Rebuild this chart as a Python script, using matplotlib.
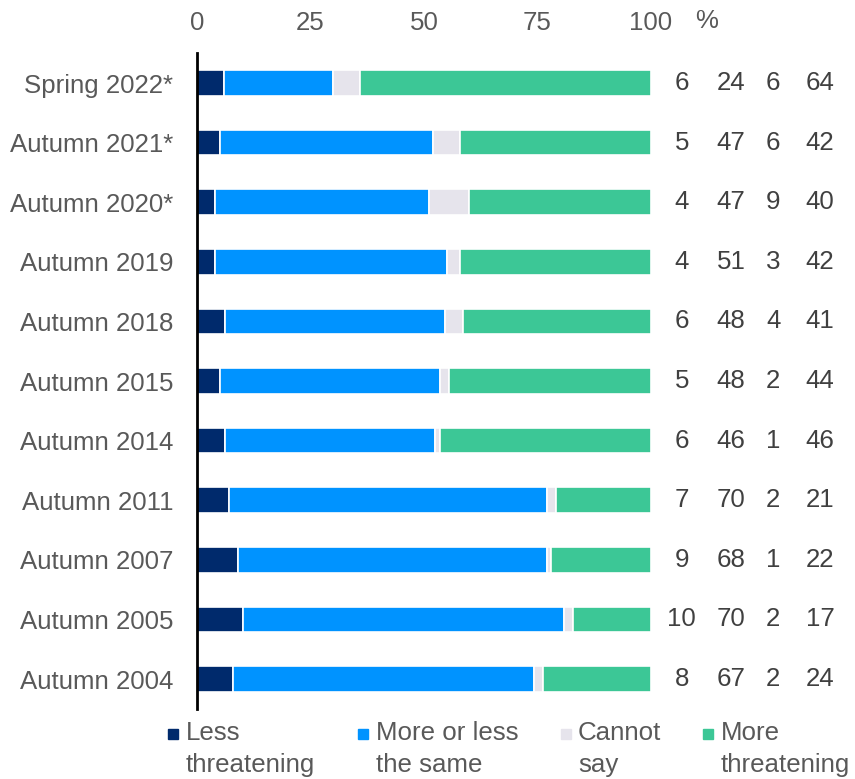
import matplotlib.pyplot as plt
import matplotlib.patches as mpatches
import matplotlib.transforms as mtransforms
import numpy as np

plt.rcParams['font.family'] = ['Liberation Sans', 'DejaVu Sans']

years = ['Spring 2022*', 'Autumn 2021*', 'Autumn 2020*', 'Autumn 2019', 'Autumn 2018',
         'Autumn 2015', 'Autumn 2014', 'Autumn 2011', 'Autumn 2007', 'Autumn 2005',
         'Autumn 2004']
less = [6, 5, 4, 4, 6, 5, 6, 7, 9, 10, 8]
same = [24, 47, 47, 51, 48, 48, 46, 70, 68, 70, 67]
cannot = [6, 6, 9, 3, 4, 2, 1, 2, 1, 2, 2]
more = [64, 42, 40, 42, 41, 44, 46, 21, 22, 17, 24]

labels = ['Less\nthreatening', 'More or less\nthe same', 'Cannot\nsay', 'More\nthreatening']
colors = ['#002a6c', '#0093ff', '#e6e4ec', '#3cc796']
ticks = [0, 25, 50, 75, 100]

text_col = '#595959'
fs = 18.6

series = np.array([less, same, cannot, more], dtype=float)
# bars fill to 100 in the original
shares = series / series.sum(axis=0) * 100

fig = plt.figure(figsize=(8.55, 7.79), dpi=100)
ax = fig.add_axes([0.2304, 0.0901, 0.531, 0.8416])

y = np.arange(len(years))
left = np.zeros(len(years))
for vals, lab, col in zip(shares, labels, colors):
    ax.barh(y, vals, left=left, height=0.43, color=col, edgecolor='white',
            linewidth=1.2, label=lab)
    left += vals

# value columns on the right
col_x = [106.8, 117.6, 126.9, 137.2]
for vals, cx in zip(series, col_x):
    for yi, v in zip(y, vals):
        ax.text(cx, yi, f'{int(v)}', ha='center', va='center', fontsize=fs,
                color='#404040', clip_on=False)
trans = mtransforms.blended_transform_factory(ax.transData, fig.transFigure)
ax.text(112.3, 1 - 21 / 779, '%', ha='center', va='center', fontsize=fs,
        color=text_col, transform=trans, clip_on=False)

ax.set_xlim(0, 100)
ax.set_ylim(len(years) - 0.5, -0.5)
ax.set_yticks(y)
ax.set_yticklabels(years)
ax.set_xticks(ticks)
ax.xaxis.tick_top()
ax.tick_params(axis='x', length=0, pad=13, labelsize=fs, labelcolor=text_col)
ax.tick_params(axis='y', length=0, pad=17, labelsize=fs, labelcolor=text_col)
for s in ['top', 'right', 'bottom']:
    ax.spines[s].set_visible(False)
ax.spines['left'].set_linewidth(2)
ax.spines['left'].set_color('black')

# legend: small square aligned with first line of each label
leg_box = [168, 358, 561, 703]
leg_txt = [186, 376, 578, 721]
for bx, tx, lab, col in zip(leg_box, leg_txt, labels, colors):
    fig.add_artist(mpatches.Rectangle((bx / 855, 1 - 739 / 779), 10 / 855, 10 / 779,
                                      color=col, transform=fig.transFigure))
    fig.text(tx / 855, 1 - 721 / 779, lab, fontsize=fs, color=text_col,
             ha='left', va='top', linespacing=1.4)

fig.savefig('out.png', dpi=100)
